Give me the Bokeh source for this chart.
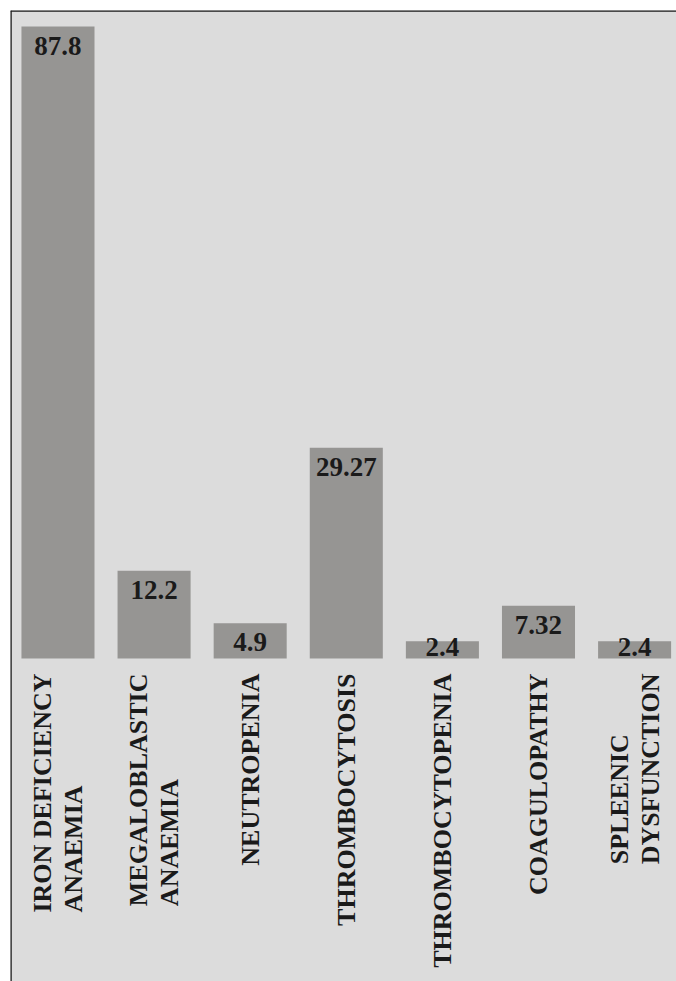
import numpy as np
from bokeh.plotting import figure
from bokeh.models import ColumnDataSource, Range1d, Span
from bokeh.core.properties import value
from bokeh.embed import file_html
from bokeh.resources import INLINE

categories = ["IRON DEFICIENCY\nANAEMIA", "MEGALOBLASTIC\nANAEMIA", "NEUTROPENIA",
              "THROMBOCYTOSIS", "THROMBOCYTOPENIA", "COAGULOPATHY", "SPLEENIC\nDYSFUNCTION"]
values = [87.8, 12.2, 4.9, 29.27, 2.4, 7.32, 2.4]
value_labels = ["87.8", "12.2", "4.9", "29.27", "2.4", "7.32", "2.4"]

# Times/Liberation Serif Bold advance widths (per 1000 em), used to left-align
# the lines of a two-line category label inside a top-anchored block
GLYPH_W = dict(A=722, B=667, C=722, D=722, E=667, F=611, G=778, H=778, I=389, J=500,
               K=778, L=667, M=944, N=722, O=778, P=611, Q=778, R=722, S=556, T=667,
               U=722, V=722, W=1000, X=722, Y=722, Z=667)
GLYPH_W[" "] = 250
CAT_FS = 26       # px
LINE_GAP = 31     # px between the two lines
TOP_GAP = 15      # px below the baseline to the top of the labels


def text_width(s):
    return sum(GLYPH_W.get(c, 600) for c in s) * CAT_FS / 1000.0


xs = list(range(len(categories)))
vals = np.array(values)
label_y = np.maximum(vals - 3.9, 0.42)

src = ColumnDataSource(dict(x=xs, top=values, lab=value_labels, ly=label_y))

# longest line of each label: right-aligned (its top end at TOP_GAP)
# shorter line: left-aligned at the bottom end of the longest line
long_x, long_t, long_dx = [], [], []
short_x, short_t, short_dx, short_dy = [], [], [], []
for i, c in enumerate(categories):
    parts = c.split("\n")
    n = len(parts)
    widths = [text_width(s) for s in parts]
    k = int(np.argmax(widths))
    for j, s in enumerate(parts):
        dx = (j - (n - 1) / 2) * LINE_GAP
        if j == k:
            long_x.append(i); long_t.append(s); long_dx.append(dx)
        else:
            short_x.append(i); short_t.append(s); short_dx.append(dx)
            short_dy.append(TOP_GAP + widths[k])

src1 = ColumnDataSource(dict(x=long_x, y=[0] * len(long_x), t=long_t, dx=long_dx))
src2 = ColumnDataSource(dict(x=short_x, y=[0] * len(short_x), t=short_t,
                             dx=short_dx, dy=short_dy))

p = figure(width=676, height=981, output_backend="svg", toolbar_location=None,
           x_range=Range1d(-0.494, 6.436), y_range=Range1d(-44.87, 90.03),
           min_border_left=10, min_border_top=10, min_border_right=0, min_border_bottom=0)
p.axis.visible = False
p.grid.visible = False
p.outline_line_color = None
p.background_fill_color = "#dcdcdc"
p.border_fill_color = "white"

p.vbar(x="x", top="top", bottom=0, width=0.76, source=src,
       fill_color="#969593", line_color=None)

p.text(x="x", y="ly", text="lab", source=src, text_align="center",
       text_baseline="alphabetic", y_offset=-9, text_font=value("Liberation Serif"),
       text_font_style="bold", text_font_size="27px", text_color="#1a1a1a")

common = dict(angle=np.pi / 2, text_baseline="middle",
              text_font=value("Liberation Serif"), text_font_style="bold",
              text_font_size=f"{CAT_FS}px", text_color="#1a1a1a")
p.text(x="x", y="y", text="t", source=src1, text_align="right",
       x_offset="dx", y_offset=TOP_GAP, **common)
p.text(x="x", y="y", text="t", source=src2, text_align="left",
       x_offset="dx", y_offset="dy", **common)

p.add_layout(Span(location=-0.494, dimension="height", line_color="#1a1a1a", line_width=2.5))
p.add_layout(Span(location=90.03, dimension="width", line_color="#1a1a1a", line_width=2.5))

open("out.html", "w").write(file_html(p, INLINE))
